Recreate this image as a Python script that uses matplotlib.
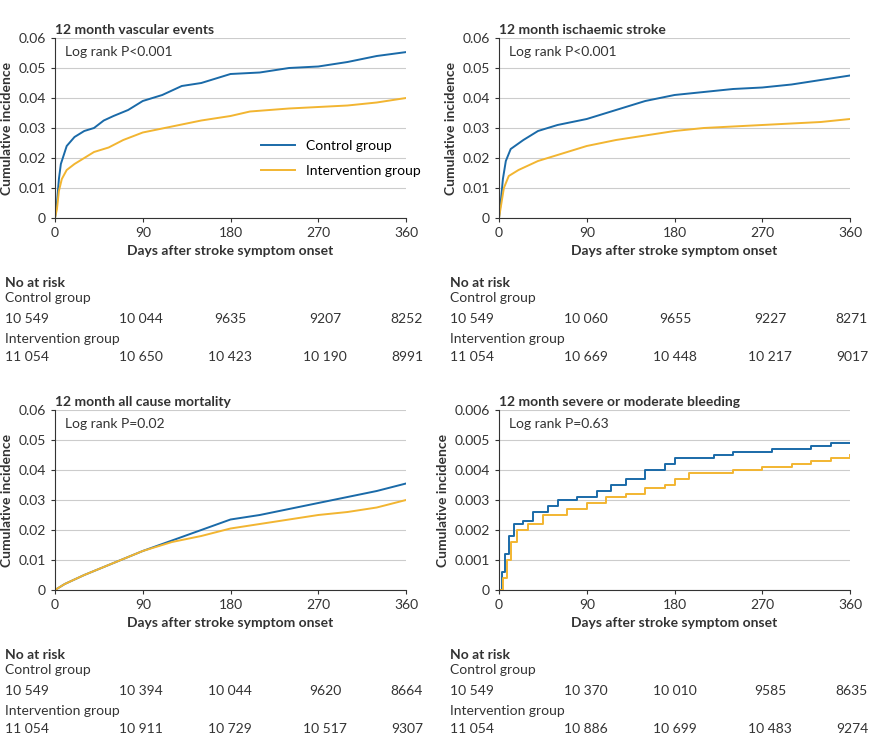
import matplotlib
matplotlib.use("Agg")
import matplotlib.pyplot as plt

plt.rcParams['font.family'] = ['Lato', 'DejaVu Sans']

BLUE = '#1a6aa8'
GOLD = '#f2b531'

titles = ["12 month vascular events", "12 month ischaemic stroke",
          "12 month all cause mortality", "12 month severe or moderate bleeding"]
pvals = ["Log rank P<0.001", "Log rank P<0.001", "Log rank P=0.02", "Log rank P=0.63"]
ymaxes = [0.06, 0.06, 0.06, 0.006]
xticks = [0, 90, 180, 270, 360]

vasc_ctrl_x = [0,2,4,6,9,12,20,30,40,50,60,75,90,110,130,150,165,180,210,240,270,300,330,360]
vasc_ctrl_y = [0,0.005,0.013,0.018,0.021,0.024,0.027,0.029,0.030,0.0325,0.034,0.036,0.039,0.041,0.044,0.045,0.0465,0.048,0.0485,0.050,0.0505,0.052,0.054,0.0553]
vasc_int_x = [0,2,4,7,12,20,30,40,55,70,90,120,150,180,200,240,270,300,330,360]
vasc_int_y = [0,0.003,0.009,0.013,0.016,0.018,0.020,0.022,0.0235,0.026,0.0285,0.0305,0.0325,0.034,0.0355,0.0365,0.037,0.0375,0.0385,0.040]

isch_ctrl_x = [0,2,4,7,12,25,40,60,90,120,150,180,210,240,270,300,330,360]
isch_ctrl_y = [0,0.006,0.013,0.019,0.023,0.026,0.029,0.031,0.033,0.036,0.039,0.041,0.042,0.043,0.0435,0.0445,0.046,0.0475]
isch_int_x = [0,2,5,10,20,40,60,90,120,150,180,210,240,270,300,330,360]
isch_int_y = [0,0.004,0.010,0.014,0.016,0.019,0.021,0.024,0.026,0.0275,0.029,0.030,0.0305,0.031,0.0315,0.032,0.033]

mort_ctrl_x = [0,10,30,60,90,120,150,180,210,240,270,300,330,360]
mort_ctrl_y = [0,0.002,0.005,0.009,0.013,0.0165,0.020,0.0235,0.025,0.027,0.029,0.031,0.033,0.0355]
mort_int_x = [0,10,30,60,90,120,150,180,210,240,270,300,330,360]
mort_int_y = [0,0.002,0.005,0.009,0.013,0.016,0.018,0.0205,0.022,0.0235,0.025,0.026,0.0275,0.030]

bleed_ctrl_x = [0,3,6,10,15,25,35,50,60,80,100,115,130,150,170,180,220,240,280,320,340,360]
bleed_ctrl_y = [0,0.0006,0.0012,0.0018,0.0022,0.0023,0.0026,0.0028,0.0030,0.0031,0.0033,0.0035,0.0037,0.0040,0.0042,0.0044,0.0045,0.0046,0.0047,0.0048,0.0049,0.0049]
bleed_int_x = [0,4,8,12,18,30,45,70,90,110,130,150,170,180,195,240,270,300,320,340,360]
bleed_int_y = [0,0.0004,0.0010,0.0016,0.0020,0.0022,0.0025,0.0027,0.0029,0.0031,0.0032,0.0034,0.0035,0.0037,0.0039,0.0040,0.0041,0.0042,0.0043,0.0044,0.0045]

ctrl_series = [(vasc_ctrl_x, vasc_ctrl_y), (isch_ctrl_x, isch_ctrl_y), (mort_ctrl_x, mort_ctrl_y), (bleed_ctrl_x, bleed_ctrl_y)]
int_series = [(vasc_int_x, vasc_int_y), (isch_int_x, isch_int_y), (mort_int_x, mort_int_y), (bleed_int_x, bleed_int_y)]
styles = ['default', 'default', 'default', 'steps-post']

risk_ctrl = [["10 549","10 044","9635","9207","8252"],
             ["10 549","10 060","9655","9227","8271"],
             ["10 549","10 394","10 044","9620","8664"],
             ["10 549","10 370","10 010","9585","8635"]]
risk_int = [["11 054","10 650","10 423","10 190","8991"],
            ["11 054","10 669","10 448","10 217","9017"],
            ["11 054","10 911","10 729","10 517","9307"],
            ["11 054","10 886","10 699","10 483","9274"]]

W, H = 873, 746
fig = plt.figure(figsize=(W/100, H/100), dpi=100)

def fx(px): return px / W
def fy(py): return 1 - py / H

origins = [(55, 38, 0, 0), (499, 38, 445, 0), (55, 410, 0, 372), (499, 410, 445, 372)]
for i, (ax0, ay0, dx, dy) in enumerate(origins):
    ax = fig.add_axes([fx(ax0), fy(ay0 + 180), fx(351), 180 / H])
    ym = ymaxes[i]
    ax.set_xlim(0, 360); ax.set_ylim(0, ym)
    ax.set_xticks(xticks)
    yt = [ym * k / 6 for k in range(7)]
    ax.set_yticks(yt)
    if ym == 0.06:
        ax.set_yticklabels(["0", "0.01", "0.02", "0.03", "0.04", "0.05", "0.06"])
    else:
        ax.set_yticklabels(["0", "0.001", "0.002", "0.003", "0.004", "0.005", "0.006"])
    ax.grid(axis='y', color='#cccccc', lw=0.8)
    ax.set_axisbelow(True)
    for s in ['top', 'right']:
        ax.spines[s].set_visible(False)
    for s in ['left', 'bottom']:
        ax.spines[s].set_color('#333333')
    ax.tick_params(labelsize=10, colors='#333333', length=3)
    ax.set_xlabel("Days after stroke symptom onset", fontsize=10, fontweight='bold', color='#333333')
    ax.set_ylabel("Cumulative incidence", fontsize=10, fontweight='bold', color='#333333')
    ax.set_title(titles[i], fontsize=10, fontweight='bold', loc='left', color='#333333', pad=3)
    ax.plot(*ctrl_series[i], color=BLUE, lw=1.4, drawstyle=styles[i], label='Control group')
    ax.plot(*int_series[i], color=GOLD, lw=1.4, drawstyle=styles[i], label='Intervention group')
    ax.text(10, ym * 0.955, pvals[i], fontsize=10, va='top', color='#333333')
    if i == 0:
        ax.legend(loc='center left', bbox_to_anchor=(0.55, 0.33), frameon=False, fontsize=10,
                  handlelength=2.5, labelspacing=0.9)

    cols = [27, 141, 230, 325, 407]
    fig.text(fx(5 + dx), fy(283 + dy), "No at risk", fontsize=10, fontweight='bold', va='center', color='#333333')
    fig.text(fx(5 + dx), fy(298 + dy), "Control group", fontsize=10, va='center', color='#333333')
    fig.text(fx(5 + dx), fy(339 + dy), "Intervention group", fontsize=10, va='center', color='#333333')
    for j, c in enumerate(cols):
        fig.text(fx(c + dx), fy(319 + dy), risk_ctrl[i][j], fontsize=10, va='center', ha='center', color='#333333')
        fig.text(fx(c + dx), fy(357 + dy), risk_int[i][j], fontsize=10, va='center', ha='center', color='#333333')

fig.savefig("out.png", dpi=100)
